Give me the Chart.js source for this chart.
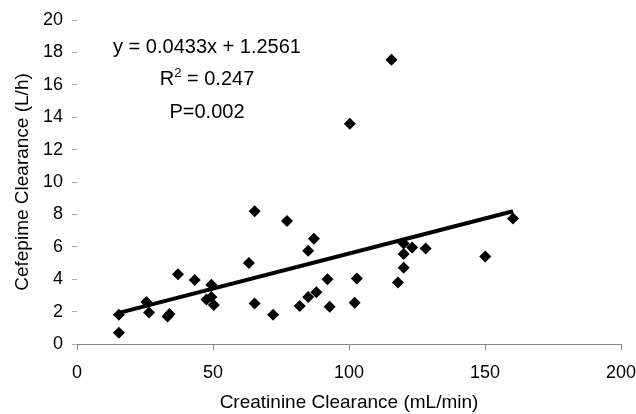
<!DOCTYPE html>
<html>
<head>
<meta charset="utf-8">
<script src="https://cdn.jsdelivr.net/npm/chart.js@4"></script>
<style>
  html, body { margin: 0; padding: 0; background: #fff; }
  #wrap { width: 636px; height: 414px; }
</style>
</head>
<body>
<div id="wrap"><canvas id="cefepimeChart"></canvas></div>
<script>
// Creatinine clearance (mL/min) for each patient
const creatinine = [15.4, 15.4, 25.5, 26.5, 33.3, 34.0, 37.1, 43.3, 47.6, 49.4,
  49.4, 50.3, 63.2, 65.3, 65.3, 72.1, 77.2, 81.9, 85.0, 85.0,
  87.1, 88.0, 92.1, 92.9, 100.3, 102.1, 102.9, 115.6, 118.0, 120.1,
  120.1, 120.1, 123.2, 128.2, 150.1, 160.3];
// Cefepime clearance (L/h) for the same patients
const cefepime = [1.8, 0.7, 2.6, 1.95, 1.7, 1.85, 4.3, 3.95, 2.75, 3.65,
  2.9, 2.4, 5.0, 8.2, 2.5, 1.8, 7.6, 2.35, 5.75, 2.9,
  6.5, 3.2, 4.0, 2.3, 13.6, 2.55, 4.05, 17.55, 3.8, 4.7,
  5.55, 6.2, 5.95, 5.9, 5.4, 7.75];

// Linear fit reported on the chart
const fitSlope = 0.0433;
const fitIntercept = 1.2561;

// Annotation lines and where they sit (in data units)
const noteLines = ["y = 0.0433x + 1.2561", "R2 = 0.247", "P=0.002"];
const noteX = 47.8;
const noteY = [18.3, 16.3, 14.3];

const xTicks = [0, 50, 100, 150, 200];
const yTicks = [0, 2, 4, 6, 8, 10, 12, 14, 16, 18, 20];

const points = creatinine.map((x, i) => ({ x: x, y: cefepime[i] }));
const xMin = Math.min(...creatinine);
const xMax = Math.max(...creatinine);
const fitLine = [
  { x: xMin, y: fitSlope * xMin + fitIntercept },
  { x: xMax, y: fitSlope * xMax + fitIntercept }
];

// Draws the regression text, with a real superscript for R2
const notePlugin = {
  id: "notes",
  afterDatasetsDraw(chart) {
    const ctx = chart.ctx;
    const xs = chart.scales.x, ys = chart.scales.y;
    ctx.save();
    ctx.fillStyle = "#000";
    ctx.textBaseline = "middle";
    const font = "20px 'Liberation Sans', Arial, sans-serif";
    const small = "13px 'Liberation Sans', Arial, sans-serif";
    noteLines.forEach((txt, i) => {
      const cx = xs.getPixelForValue(noteX);
      const cy = ys.getPixelForValue(noteY[i]);
      if (txt.startsWith("R2")) {
        const rest = txt.slice(2);
        ctx.font = font;
        const wR = ctx.measureText("R").width;
        const wRest = ctx.measureText(rest).width;
        ctx.font = small;
        const w2 = ctx.measureText("2").width;
        const total = wR + w2 + wRest;
        let left = cx - total / 2;
        ctx.textAlign = "left";
        ctx.font = font;
        ctx.fillText("R", left, cy);
        ctx.font = small;
        ctx.fillText("2", left + wR, cy - 7);
        ctx.font = font;
        ctx.fillText(rest, left + wR + w2, cy);
      } else {
        ctx.font = font;
        ctx.textAlign = "center";
        ctx.fillText(txt, cx, cy);
      }
    });
    ctx.restore();
  }
};

const tickFont = { family: "'Liberation Sans', Arial, sans-serif", size: 18 };
const titleFont = { family: "'Liberation Sans', Arial, sans-serif", size: 19 };

new Chart(document.getElementById("cefepimeChart"), {
  type: "scatter",
  data: {
    datasets: [
      {
        label: "Patients",
        data: points,
        pointStyle: "rectRot",
        pointRadius: 6,
        pointHoverRadius: 6,
        backgroundColor: "#000",
        borderColor: "#000",
        borderWidth: 0
      },
      {
        label: "Linear fit",
        data: fitLine,
        type: "line",
        showLine: true,
        borderColor: "#000",
        borderWidth: 4,
        pointRadius: 0,
        fill: false
      }
    ]
  },
  options: {
    responsive: true,
    maintainAspectRatio: false,
    animation: false,
    layout: { padding: { left: 0, right: 15, top: 20, bottom: 0 } },
    plugins: {
      legend: { display: false },
      tooltip: { enabled: false }
    },
    scales: {
      x: {
        type: "linear",
        min: 0,
        max: 200,
        afterBuildTicks(scale) { scale.ticks = xTicks.map(v => ({ value: v })); },
        afterFit(scale) {
          scale.height = 70;
          scale.paddingRight = 0;
          scale.paddingLeft = 0;
        },
        ticks: { color: "#000", font: tickFont, padding: 12 },
        grid: { drawOnChartArea: false, tickLength: 6, color: "#888" },
        border: { display: true, color: "#888", width: 1 },
        title: {
          display: true,
          text: "Creatinine Clearance (mL/min)",
          color: "#000",
          font: titleFont,
          padding: { top: 4, bottom: 0 }
        }
      },
      y: {
        type: "linear",
        min: 0,
        max: 20,
        afterBuildTicks(scale) { scale.ticks = yTicks.map(v => ({ value: v })); },
        afterFit(scale) {
          scale.width = 77;
          scale.paddingTop = 0;
          scale.paddingBottom = 0;
        },
        ticks: { color: "#000", font: tickFont, padding: 9 },
        grid: { drawOnChartArea: false, tickLength: 5, color: "#aaa" },
        border: { display: false },
        title: {
          display: true,
          text: "Cefepime Clearance (L/h)",
          color: "#000",
          font: titleFont,
          padding: { top: 11, bottom: 4 }
        }
      }
    }
  },
  plugins: [notePlugin]
});
</script>
</body>
</html>
